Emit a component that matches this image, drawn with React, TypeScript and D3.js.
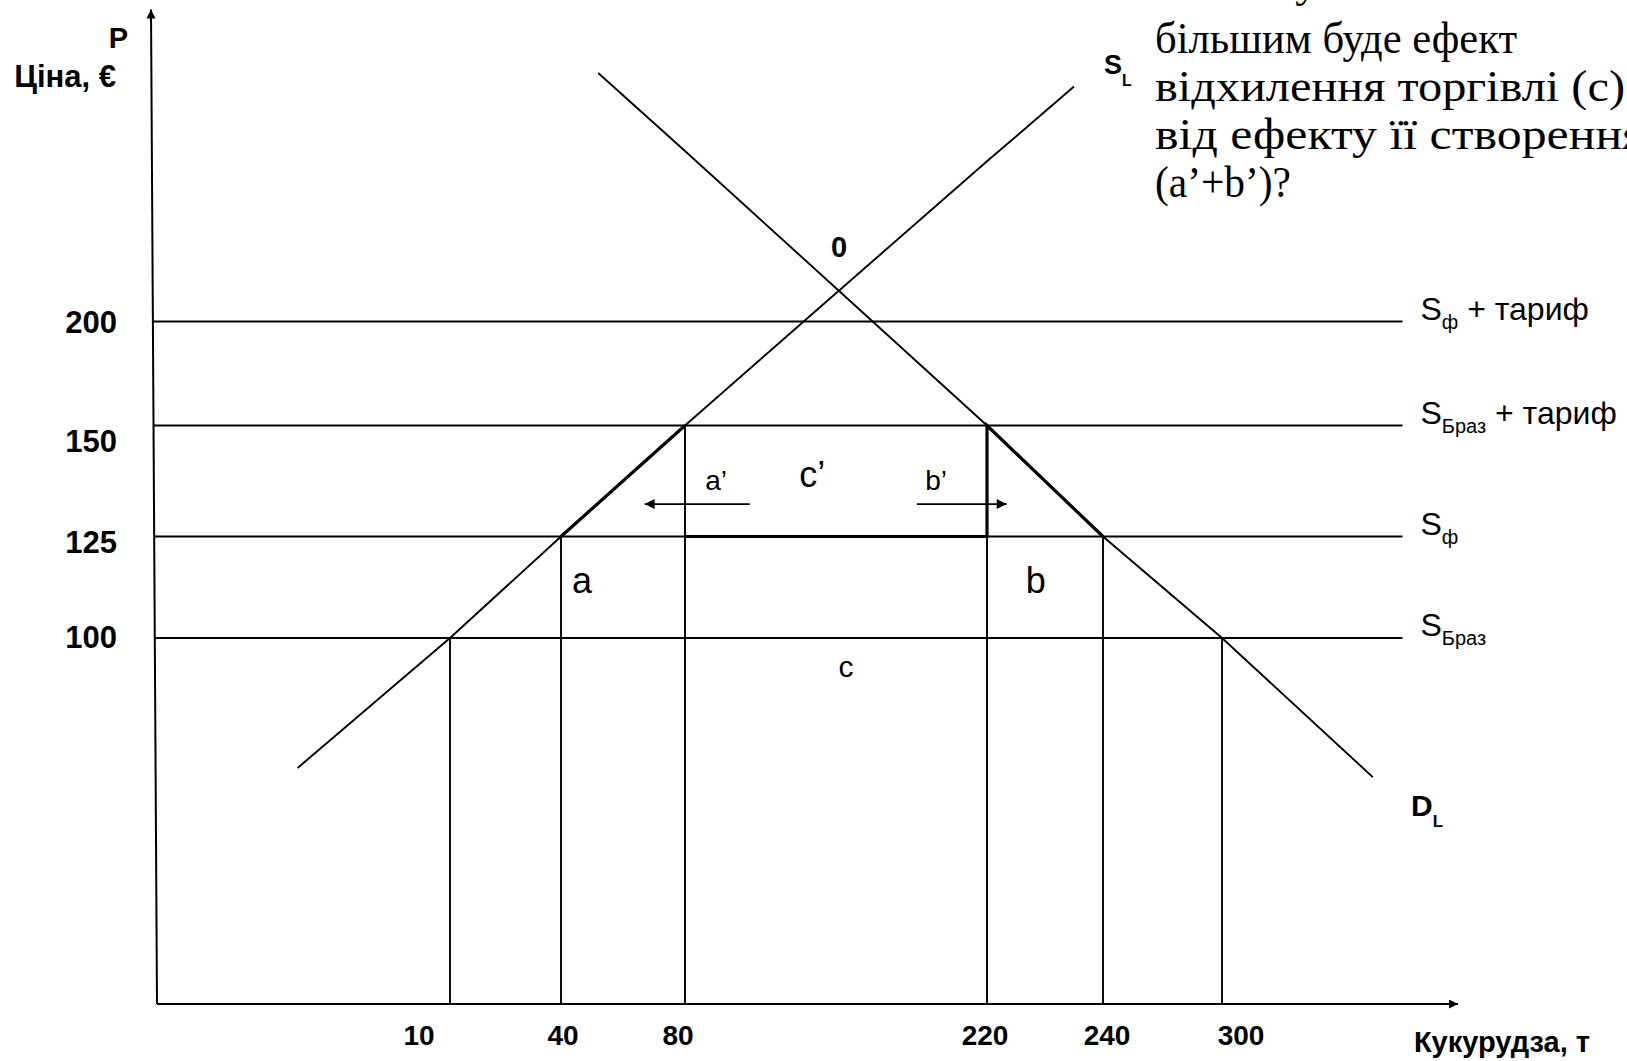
import React from 'react';
import * as d3 from 'd3';

// quantities (t) where the drop lines stand, with their tick labels
const quantities = [10, 40, 80, 220, 240, 300];
const quantityLabels = ['10', '40', '80', '220', '240', '300'];
// price each drop line rises to
const dropPrices = [100, 125, 150, 150, 125, 100];

// horizontal supply levels (price, €)
const levelPrices = [200, 150, 125, 100];
const priceLabels = ['200', '150', '125', '100'];
const levelSubs = ['ф', 'Браз', 'ф', 'Браз'];
const levelTariff = [true, true, false, false];

// S_L and D_L, points [q, p]
const supplyL: [number, number][] = [[4.8, 64.5], [10, 100], [40, 125], [80, 150], [135, 200], [220, 277], [235, 313]];
const demandL: [number, number][] = [[52, 319.5], [80, 282], [167, 200], [220, 150], [240, 125], [300, 100], [376, 62]];

// bold outline round c'
const boldSupply: [number, number][] = [[40, 125], [80, 150]];
const boldChain: [number, number][] = [[80, 125], [220, 125], [220, 150], [240, 125]];

// area labels [q, p]
const areaLabels = ['a’', 'c’', 'b’', 'a', 'b', 'c'];
const areaQ = [94.4, 139, 196.4, 46.8, 228.4, 154.6];
const areaP = [135.5, 136.2, 135.5, 111.1, 111.1, 89.3];

// shift arrows a' (left) and b' (right)
const arrowFromQ = [110, 187.5];
const arrowToQ = [67, 223.4];
const arrowP = 132.3;

const questionLines = [
  'За якої умови',
  'більшим буде ефект',
  'відхилення торгівлі (c)',
  'від ефекту її створення',
  '(a’+b’)?'
];

// ---- layout ----
const W = 1627;
const H = 1061;
const Q_AXIS_MAX = 419;
const P_AXIS_MAX = 350;
const LEVEL_END_Q = 391;
const AXIS_TILT = 6;
const AREA_FONT = [28, 36, 28, 36, 36, 30];
const Y_LABEL_DY = [11, 26, 16.5, 10];
const X_LABEL_DX = [-31, 2, -7, -2, 4, 19];
const QUESTION_Y = [-3, 53, 101, 149, 197];
const QUESTION_LEN = [0, 362, 470, 490, 136];

const x = d3.scaleLinear()
  .domain([0, ...quantities])
  .range([157, 450, 561, 685, 987, 1103, 1222]);

const y = d3.scaleLinear()
  .domain([0, ...[...levelPrices].reverse()])
  .range([1004, 638, 536.5, 425.5, 321.5]);

const path = d3.line<[number, number]>()
  .x(d => x(d[0]))
  .y(d => y(d[1]));

// x of the slightly tilted price axis at a given price
const axisX = (p: number) =>
  x(0) - AXIS_TILT * (y(0) - y(p)) / (y(0) - y(P_AXIS_MAX));

const SANS = 'Arial, "Liberation Sans", Helvetica, sans-serif';
const SERIF = '"Times New Roman", "Liberation Serif", serif';

export default function App() {
  return (
    <div style={{ position: 'absolute', left: 0, top: 0 }}>
      <svg width={W} height={H} style={{ display: 'block', background: '#fff' }}>
        <defs>
          <marker id="axisHead" viewBox="0 0 10 10" refX="10" refY="5"
            markerWidth="13" markerHeight="9" markerUnits="userSpaceOnUse" orient="auto">
            <path d="M0,0L10,5L0,10z" fill="#000" />
          </marker>
          <marker id="shiftHead" viewBox="0 0 10 10" refX="10" refY="5"
            markerWidth="15" markerHeight="10" markerUnits="userSpaceOnUse" orient="auto">
            <path d="M0,0L10,5L0,10z" fill="#000" />
          </marker>
        </defs>

        {/* axes */}
        <line x1={x(0)} y1={y(0)} x2={axisX(P_AXIS_MAX)} y2={y(P_AXIS_MAX)}
          stroke="#000" strokeWidth={2} markerEnd="url(#axisHead)" />
        <line x1={x(0)} y1={y(0)} x2={x(Q_AXIS_MAX)} y2={y(0)}
          stroke="#000" strokeWidth={2} markerEnd="url(#axisHead)" />

        {/* price levels */}
        {levelPrices.map((p, i) => (
          <g key={'lv' + p}>
            <line x1={axisX(p)} y1={y(p)} x2={x(LEVEL_END_Q)} y2={y(p)}
              stroke="#000" strokeWidth={1.9} />
            <text x={x(LEVEL_END_Q) + 18} y={y(p) - 2} fontFamily={SANS} fontSize={32}>
              <tspan>S</tspan>
              <tspan dy={9} fontSize={20}>{levelSubs[i]}</tspan>
              {levelTariff[i] ? <tspan dy={-9}> + тариф</tspan> : null}
            </text>
            <text x={117} y={y(p) + Y_LABEL_DY[i]} textAnchor="end"
              fontFamily={SANS} fontWeight="bold" fontSize={31}>{priceLabels[i]}</text>
          </g>
        ))}

        {/* drop lines to the quantity axis */}
        {quantities.map((q, i) => (
          <g key={'q' + q}>
            <line x1={x(q)} y1={y(dropPrices[i])} x2={x(q)} y2={y(0)}
              stroke="#000" strokeWidth={1.9} />
            <text x={x(q) + X_LABEL_DX[i]} y={1045} textAnchor="middle"
              fontFamily={SANS} fontWeight="bold" fontSize={28}>{quantityLabels[i]}</text>
          </g>
        ))}

        {/* supply and demand */}
        <path d={path(supplyL) || ''} fill="none" stroke="#000" strokeWidth={1.9} />
        <path d={path(demandL) || ''} fill="none" stroke="#000" strokeWidth={1.9} />
        <path d={path(boldSupply) || ''} fill="none" stroke="#000" strokeWidth={3.2} />
        <path d={path(boldChain) || ''} fill="none" stroke="#000" strokeWidth={3.2} strokeLinejoin="miter" />

        {/* shift arrows */}
        {arrowFromQ.map((q, i) => (
          <line key={'ar' + i} x1={x(q)} y1={y(arrowP)} x2={x(arrowToQ[i])} y2={y(arrowP)}
            stroke="#000" strokeWidth={1.8} markerEnd="url(#shiftHead)" />
        ))}

        {/* area labels */}
        {areaLabels.map((t, i) => (
          <text key={'al' + i} x={x(areaQ[i])} y={y(areaP[i])} textAnchor="middle"
            fontFamily={SANS} fontSize={AREA_FONT[i]}>{t}</text>
        ))}

        {/* equilibrium point */}
        <text x={x(151.4)} y={y(231)} textAnchor="middle" fontFamily={SANS}
          fontWeight="bold" fontSize={29}>0</text>

        {/* curve labels */}
        <text x={x(240.5)} y={y(319)} fontFamily={SANS} fontWeight="bold" fontSize={27}>
          <tspan>S</tspan><tspan dy={12} fontSize={16}>L</tspan>
        </text>
        <text x={x(395.3)} y={y(51.5)} fontFamily={SANS} fontWeight="bold" fontSize={30}>
          <tspan>D</tspan><tspan dy={11} fontSize={17}>L</tspan>
        </text>

        {/* axis titles */}
        <text x={128} y={48} textAnchor="end" fontFamily={SANS} fontWeight="bold" fontSize={29}>P</text>
        <text x={116} y={87} textAnchor="end" fontFamily={SANS} fontWeight="bold" fontSize={31}>Ціна, €</text>
        <text x={1590} y={1052} textAnchor="end" fontFamily={SANS} fontWeight="bold" fontSize={29}>Кукурудза, т</text>

        {/* question text */}
        {questionLines.map((t, i) => (
          <text key={'ql' + i} x={1155} y={QUESTION_Y[i]} fontFamily={SERIF} fontSize={45}
            textLength={QUESTION_LEN[i] || undefined}
            lengthAdjust={QUESTION_LEN[i] ? 'spacingAndGlyphs' : undefined}>{t}</text>
        ))}
      </svg>
    </div>
  );
}
